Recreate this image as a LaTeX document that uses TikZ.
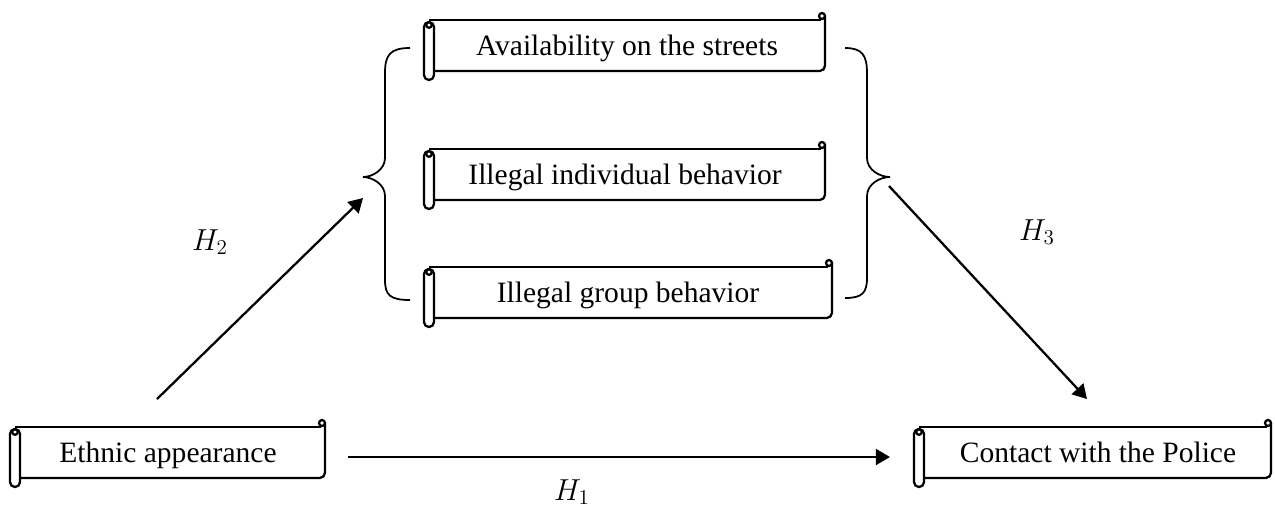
\documentclass[tikz,border=0pt]{standalone}
\usepackage{fontspec}
\setmainfont{Liberation Serif}
\usetikzlibrary{arrows.meta}

\tikzset{
    scrollline/.style={line width=1.3pt, line join=round},
    braceline/.style={line width=1pt},
    arr/.style={line width=1.3pt, -{Triangle[length=8pt,width=9pt]}},
    lbl/.style={font=\fontsize{16.8}{19}\selectfont, anchor=base},
    hyp/.style={font=\fontsize{16.8}{19}\selectfont},
}

% scroll: left x, top y, right x, bottom y
\newcommand{\scrollbox}[4]{%
    \draw[scrollline, rounded corners=3pt] (#1+10,#4) -- (#3,#4) -- (#3,#2-4);
    \draw[scrollline] (#1+5,#2) -- (#3-4,#2);
    \draw[scrollline, fill=white] (#3-3,#2-4) circle (1.7pt);
    \draw[scrollline, fill=white, rounded corners=2.8pt] (#1,#2+2) rectangle (#1+10,#4+9);
    \draw[scrollline] (#1+5,#2+5) circle (1.6pt);
}

\begin{document}
\begin{tikzpicture}[x=0.02cm, y=-0.02cm]
    \useasboundingbox (0,0) rectangle (1275,512);
    \pgfmathsetmacro{\rollx}{424}
    \scrollbox{\rollx}{20}{825}{71}
    \scrollbox{\rollx}{149}{825}{200}
    \scrollbox{\rollx}{267}{832}{318}
    \scrollbox{10}{427}{325}{478}
    \scrollbox{914}{427}{1271}{478}
    \node[lbl] (avail) at (627,55) {Availability on the streets};
    \node[lbl] (indiv) at (625,184) {Illegal individual behavior};
    \node[lbl] (group) at (628,302) {Illegal group behavior};
    \node[lbl] (ethnic) at (168,462) {Ethnic appearance};
    \node[lbl] (police) at (1098,462) {Contact with the Police};
    \draw[braceline] (410,48) .. controls (390,48) and (385,55) .. (385,73) -- (385,158)
        .. controls (385,170) and (372,177) .. (363,177)
        .. controls (372,177) and (385,184) .. (385,196) -- (385,280)
        .. controls (385,295) and (390,300) .. (410,300);
    \draw[braceline] (845,48) .. controls (862,48) and (867,55) .. (867,73) -- (867,158)
        .. controls (867,170) and (880,177) .. (890,177)
        .. controls (880,177) and (867,184) .. (867,196) -- (867,278)
        .. controls (867,293) and (862,298) .. (845,298);
    \coordinate (h2from) at (157,399);
    \coordinate (h2to) at (363,198);
    \coordinate (h3from) at (889,186);
    \coordinate (h3to) at (1087,399);
    \coordinate (h1from) at (348,457);
    \coordinate (h1to) at (890,457);
    \draw[arr] (h2from) -- (h2to);
    \draw[arr] (h3from) -- (h3to);
    \draw[arr] (h1from) -- (h1to);
    \node[hyp] (h2lab) at (210,242) {$H_2$};
    \node[hyp] (h3lab) at (1037,232) {$H_3$};
    \node[hyp] (h1lab) at (572,492) {$H_1$};
\end{tikzpicture}
\end{document}
